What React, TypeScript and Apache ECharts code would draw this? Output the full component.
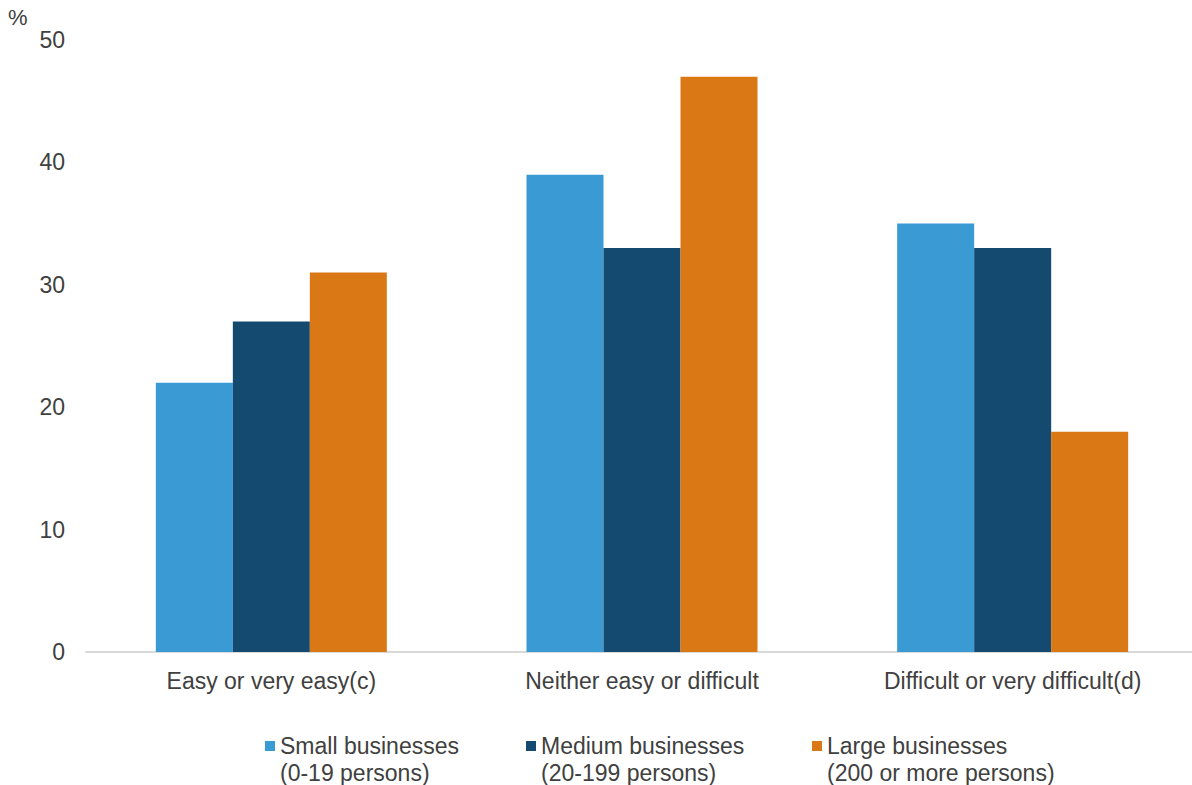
import React, { useEffect, useRef } from "react";
import * as echarts from "echarts";

const categories = ["Easy or very easy(c)", "Neither easy or difficult", "Difficult or very difficult(d)"];
const smallBiz = [22, 39, 35];
const mediumBiz = [27, 33, 33];
const largeBiz = [31, 47, 18];
const seriesNames = [
  "Small businesses\n(0-19 persons)",
  "Medium businesses\n(20-199 persons)",
  "Large businesses\n(200 or more persons)",
];
const colors = ["#3A9AD3", "#144A70", "#D97814"];

const FONT = "'Liberation Sans', Arial, sans-serif";
const TEXT = "#404040";

export default function App() {
  const ref = useRef<HTMLDivElement>(null);
  useEffect(() => {
    if (!ref.current) return;
    const chart = echarts.init(ref.current, undefined, { renderer: "svg" });
    const legendBase = (name: string, left: number) => ({
      data: [name],
      left,
      top: 705.5,
      padding: 0,
      itemWidth: 10,
      itemHeight: 10,
      itemGap: 0,
      icon: "rect",
      selectedMode: false,
      formatter: (n: string) => " \n" + n,
      textStyle: {
        fontFamily: FONT,
        fontSize: 23,
        color: TEXT,
        lineHeight: 27,
      },
    });
    chart.setOption({
      animation: false,
      backgroundColor: "#ffffff",
      textStyle: { fontFamily: FONT },
      grid: {
        left: 86,
        width: 1112,
        top: 40,
        bottom: 133,
        containLabel: false,
        outerBoundsMode: "none",
      },
      graphic: [
        {
          type: "text",
          left: 8,
          top: 6,
          style: { text: "%", fontSize: 22, fontFamily: FONT, fill: TEXT },
        },
      ],
      legend: [
        legendBase(seriesNames[0], 265),
        legendBase(seriesNames[1], 526),
        legendBase(seriesNames[2], 812),
      ],
      xAxis: {
        type: "category",
        data: categories,
        axisTick: { show: false },
        axisLine: { lineStyle: { color: "#d9d9d9", width: 2 } },
        axisLabel: { fontSize: 23, color: TEXT, fontFamily: FONT, margin: 17, interval: 0 },
      },
      yAxis: {
        type: "value",
        min: 0,
        max: 50,
        interval: 10,
        axisLine: { show: false },
        axisTick: { show: false },
        splitLine: { show: false },
        axisLabel: { fontSize: 23, color: TEXT, fontFamily: FONT, margin: 21 },
      },
      series: [
        { name: seriesNames[0], type: "bar", data: smallBiz, barWidth: 77, barGap: "0%", itemStyle: { color: colors[0] } },
        { name: seriesNames[1], type: "bar", data: mediumBiz, barWidth: 77, barGap: "0%", itemStyle: { color: colors[1] } },
        { name: seriesNames[2], type: "bar", data: largeBiz, barWidth: 77, barGap: "0%", itemStyle: { color: colors[2] } },
      ],
    });
    return () => chart.dispose();
  }, []);
  return (
    <div
      ref={ref}
      style={{ position: "absolute", left: 0, top: 0, width: 1192, height: 785 }}
    />
  );
}
